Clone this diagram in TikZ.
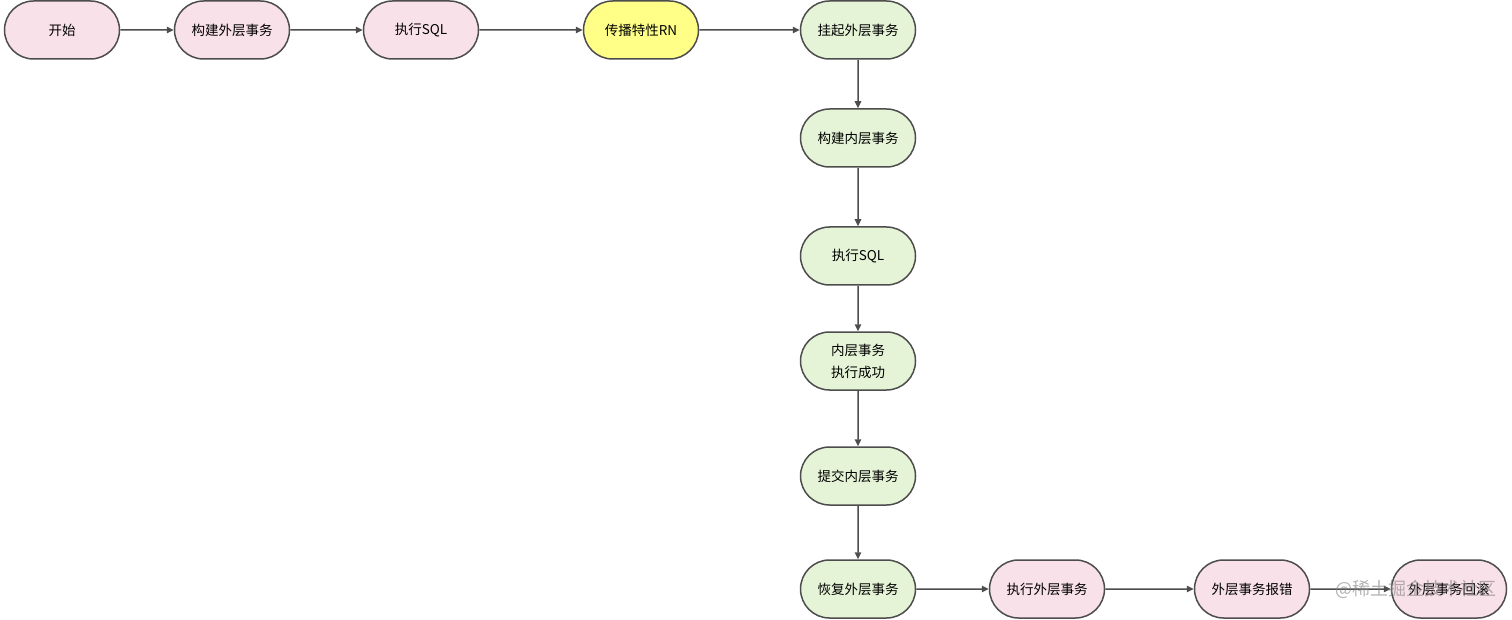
\documentclass[tikz,border=0pt]{standalone}
\usepackage{fontspec}
\setmainfont{Noto Sans CJK SC}
\usetikzlibrary{arrows.meta,shapes.misc}
\definecolor{pinkf}{HTML}{F9E1EA}
\definecolor{greenf}{HTML}{E5F4D6}
\definecolor{yellowf}{HTML}{FFFF88}
\definecolor{edge}{HTML}{4D4D4D}
\tikzset{
  stad/.style={rounded rectangle, draw=edge, line width=1.5pt, minimum width=115pt, minimum height=58pt, inner sep=0pt, font=\fontsize{13.5}{22}\selectfont, text=black, align=center},
  pk/.style={stad, fill=pinkf},
  gr/.style={stad, fill=greenf},
  yl/.style={stad, fill=yellowf},
  conn/.style={draw=edge, line width=1.5pt, -{Triangle[length=7pt,width=6.5pt]}}
}
\begin{document}
\begin{tikzpicture}[x=1pt,y=-1pt]
\useasboundingbox (0,0) rectangle (1512,620);
\node[pk] (a) at (62,30) {开始};
\node[pk] (b) at (232,30) {构建外层事务};
\node[pk] (c) at (421,30) {执行SQL};
\node[yl] (d) at (641,30) {传播特性RN};
\node[gr] (e) at (858,30) {挂起外层事务};
\node[gr] (f) at (858,138) {构建内层事务};
\node[gr] (g) at (858,256) {执行SQL};
\node[gr] (h) at (858,361) {内层事务\\执行成功};
\node[gr] (i) at (858,476) {提交内层事务};
\node[gr] (j) at (858,589) {恢复外层事务};
\node[pk] (k) at (1047,589) {执行外层事务};
\node[pk] (l) at (1252,589) {外层事务报错};
\node[pk] (m) at (1449,589) {外层事务回滚};
\draw[conn] (a) -- (b);
\draw[conn] (b) -- (c);
\draw[conn] (c) -- (d);
\draw[conn] (d) -- (e);
\draw[conn] (e) -- (f);
\draw[conn] (f) -- (g);
\draw[conn] (g) -- (h);
\draw[conn] (h) -- (i);
\draw[conn] (i) -- (j);
\draw[conn] (j) -- (k);
\draw[conn] (k) -- (l);
\draw[conn] (l) -- (m);
\node[text=gray, opacity=0.6, font=\fontsize{18}{20}\selectfont, anchor=west] (wm) at (1332,589) {@稀土掘金技术社区};
\end{tikzpicture}
\end{document}
